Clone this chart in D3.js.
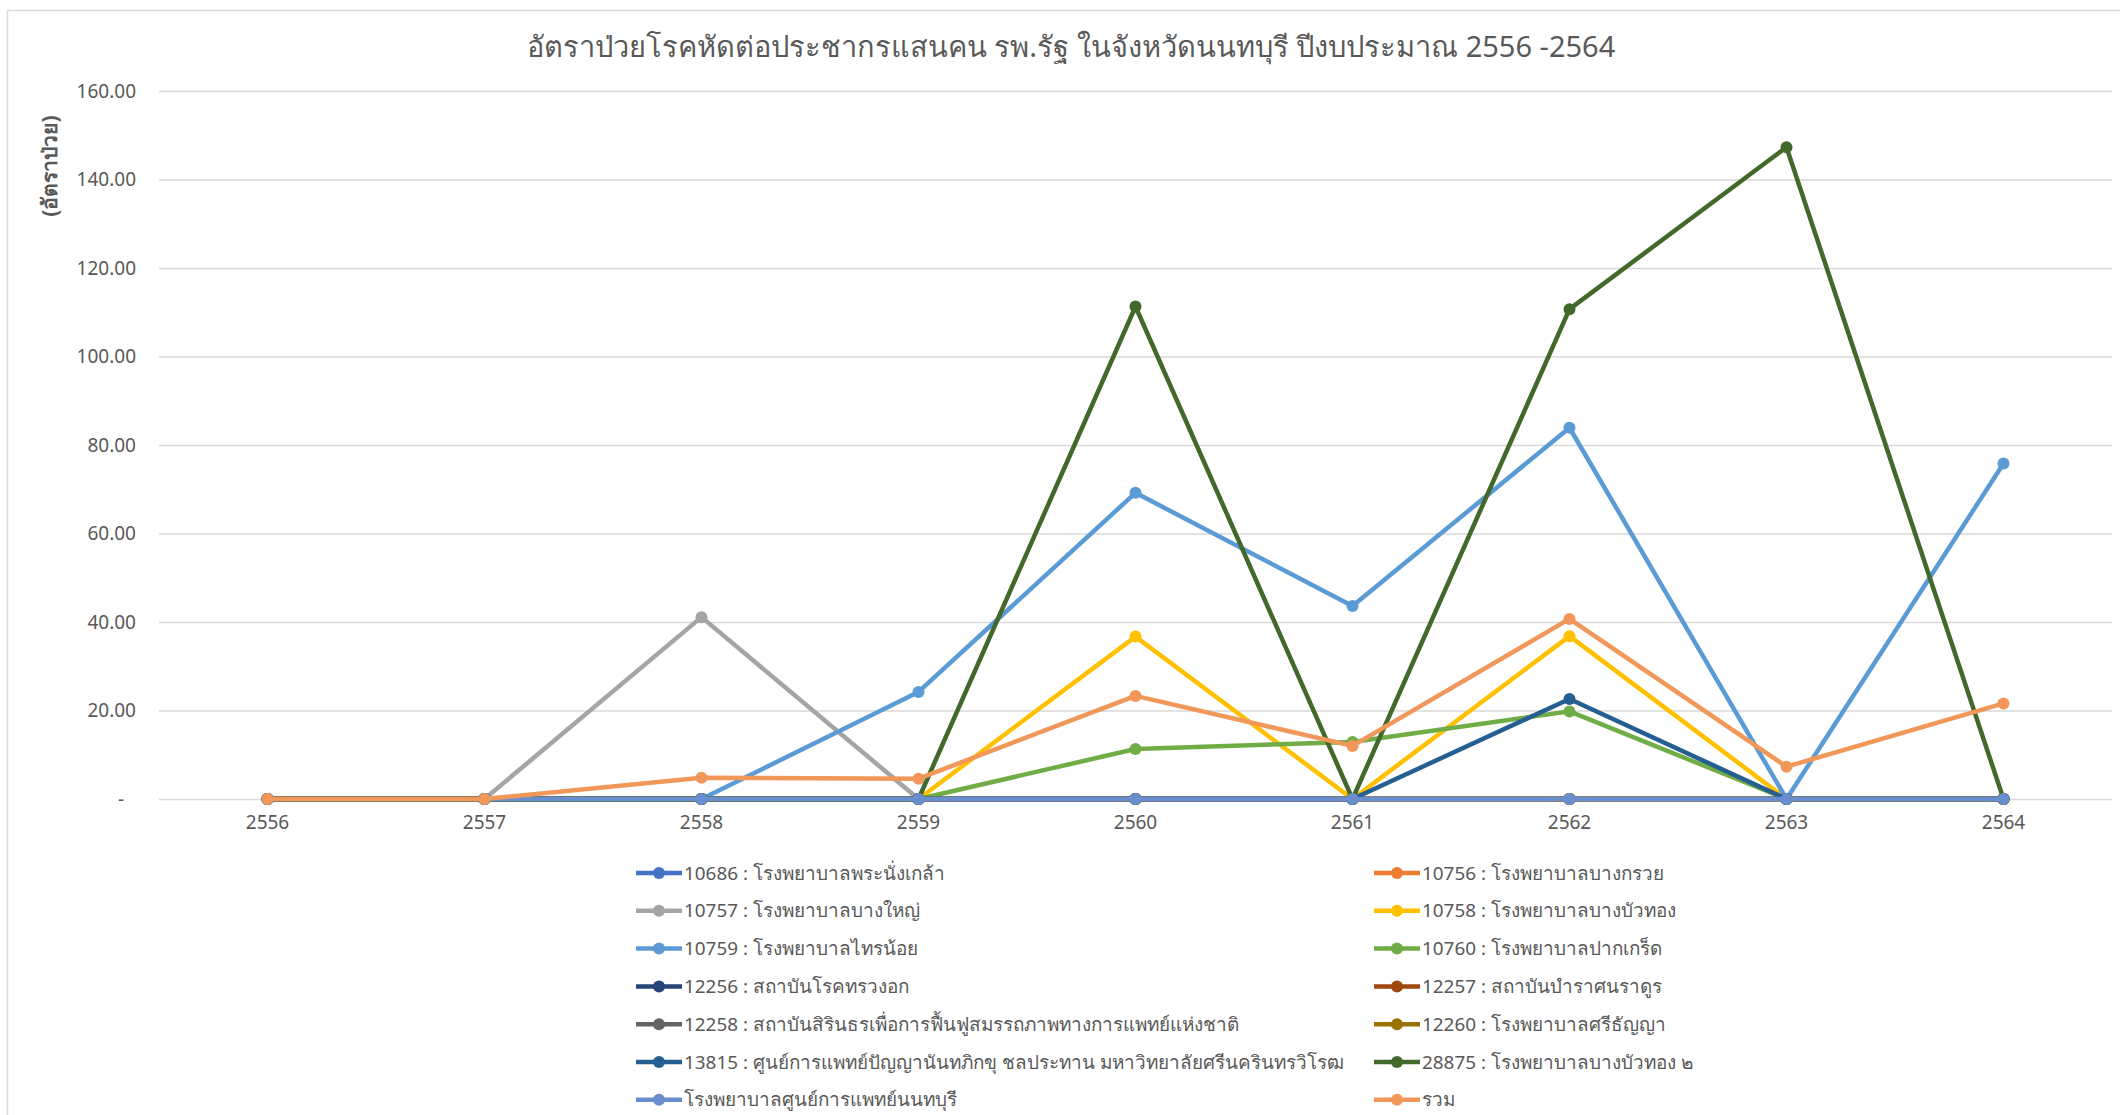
<!DOCTYPE html>
<html lang="th">

<head>
    <meta charset="UTF-8">
    <title>อัตราป่วยโรคหัด</title>
    <script src="https://d3js.org/d3.v7.min.js"></script>
    <style>
        body {
            margin: 0;
            background: #fff;
        }

        text {
            font-family: "Noto Sans", "Open Sans", sans-serif;
            fill: #595959;
        }
    </style>
</head>

<body>
    <svg width="2120" height="1115"></svg>

    <script>
        // ปีงบประมาณ
        const years = ["2556", "2557", "2558", "2559", "2560", "2561", "2562", "2563", "2564"];

        const seriesNames = [
            "10686 : โรงพยาบาลพระนั่งเกล้า",
            "10756 : โรงพยาบาลบางกรวย",
            "10757 : โรงพยาบาลบางใหญ่",
            "10758 : โรงพยาบาลบางบัวทอง",
            "10759 : โรงพยาบาลไทรน้อย",
            "10760 : โรงพยาบาลปากเกร็ด",
            "12256 : สถาบันโรคทรวงอก",
            "12257 : สถาบันบำราศนราดูร",
            "12258 : สถาบันสิรินธรเพื่อการฟื้นฟูสมรรถภาพทางการแพทย์แห่งชาติ",
            "12260 : โรงพยาบาลศรีธัญญา",
            "13815 : ศูนย์การแพทย์ปัญญานันทภิกขุ ชลประทาน มหาวิทยาลัยศรีนครินทรวิโรฒ",
            "28875 : โรงพยาบาลบางบัวทอง ๒",
            "โรงพยาบาลศูนย์การแพทย์นนทบุรี",
            "รวม"
        ];

        const seriesColors = ["#4472C4", "#ED7D31", "#A5A5A5", "#FFC000", "#5B9BD5", "#70AD47",
            "#264478", "#9E480E", "#636363", "#997300", "#255E91", "#43682B", "#698ED0", "#F1975A"];

        // อัตราป่วยต่อแสนประชากร (อ่านจากกราฟ)
        const rates = [
            [0, 0, 0, 0, 0, 0, 0, 0, 0],
            [0, 0, 0, 0, 0, 0, 0, 0, 0],
            [0, 0, 41.1, 0, 0, 0, 0, 0, 0],
            [0, 0, 0, 0, 36.7, 0, 36.8, 0, 0],
            [0, 0, 0, 24.2, 69.2, 43.6, 83.9, 0, 75.8],
            [0, 0, 0, 0, 11.3, 12.9, 19.8, 0, 0],
            [0, 0, 0, 0, 0, 0, 0, 0, 0],
            [0, 0, 0, 0, 0, 0, 0, 0, 0],
            [0, 0, 0, 0, 0, 0, 0, 0, 0],
            [0, 0, 0, 0, 0, 0, 0, 0, 0],
            [0, 0, 0, 0, 0, 0, 22.6, 0, 0],
            [0, 0, 0, 0, 111.3, 0, 110.7, 147.3, 0],
            [0, 0, 0, 0, 0, 0, 0, 0, 0],
            [0, 0, 4.8, 4.6, 23.3, 12.0, 40.7, 7.3, 21.6]
        ];

        const yTicks = [0, 20, 40, 60, 80, 100, 120, 140, 160];

        const svg = d3.select("svg"),
            plot = { left: 159, right: 2112, top: 91, bottom: 799 };

        // chart frame
        svg.append("path")
            .attr("d", "M7.5,1115 V10.5 H2120")
            .attr("fill", "none")
            .attr("stroke", "#d9d9d9")
            .attr("stroke-width", 1.5);

        const x = d3.scaleBand().domain(years).range([plot.left, plot.right]),
            y = d3.scaleLinear().domain([0, 160]).range([plot.bottom, plot.top]);
        const cx = d => x(d) + x.bandwidth() / 2;

        // gridlines + y labels
        const yAxis = svg.append("g")
            .attr("transform", `translate(${plot.left},0)`)
            .call(d3.axisLeft(y).tickValues(yTicks)
                .tickSize(-(plot.right - plot.left))
                .tickPadding(23)
                .tickFormat(d => d === 0 ? "-" : d3.format(".2f")(d)));
        yAxis.select(".domain").remove();
        yAxis.selectAll(".tick line").attr("stroke", "#d9d9d9").attr("stroke-width", 1.5);
        yAxis.selectAll(".tick text").attr("font-size", 19).attr("fill", "#595959");
        yAxis.selectAll(".tick").filter(d => d === 0).select("text").attr("dx", -12);

        // x labels
        const xAxis = svg.append("g")
            .attr("transform", `translate(0,${plot.bottom})`)
            .call(d3.axisBottom(x).tickSize(0).tickPadding(17));
        xAxis.select(".domain").remove();
        xAxis.selectAll(".tick text").attr("font-size", 19).attr("fill", "#595959");

        // lines and markers
        const line = d3.line().x((d, i) => cx(years[i])).y(d => y(d));
        seriesNames.forEach((name, s) => {
            const g = svg.append("g");
            g.append("path")
                .datum(rates[s])
                .attr("d", line)
                .attr("fill", "none")
                .attr("stroke", seriesColors[s])
                .attr("stroke-width", 4.5)
                .attr("stroke-linejoin", "round");
            g.selectAll("circle")
                .data(rates[s])
                .join("circle")
                .attr("cx", (d, i) => cx(years[i]))
                .attr("cy", d => y(d))
                .attr("r", 6)
                .attr("fill", seriesColors[s]);
        });

        // title
        svg.append("text")
            .attr("x", 1071)
            .attr("y", 57)
            .attr("text-anchor", "middle")
            .attr("font-size", 29)
            .text("อัตราป่วยโรคหัดต่อประชากรแสนคน รพ.รัฐ ในจังหวัดนนทบุรี ปีงบประมาณ 2556 -2564");

        // y-axis title
        svg.append("text")
            .attr("transform", "translate(57,166) rotate(-90)")
            .attr("text-anchor", "middle")
            .attr("font-size", 21)
            .attr("font-weight", "bold")
            .text("(อัตราป่วย)");

        // legend, two columns
        const legend = svg.append("g");
        seriesNames.forEach((name, s) => {
            const col = s % 2, row = Math.floor(s / 2);
            const lx = col === 0 ? 636 : 1374, ly = 873 + row * 37.8;
            const item = legend.append("g").attr("transform", `translate(${lx},${ly})`);
            item.append("line")
                .attr("x1", 0).attr("x2", 46)
                .attr("stroke", seriesColors[s])
                .attr("stroke-width", 4.5);
            item.append("circle")
                .attr("cx", 23).attr("r", 6)
                .attr("fill", seriesColors[s]);
            item.append("text")
                .attr("x", 48)
                .attr("dy", "0.35em")
                .attr("font-size", 18.9)
                .text(name);
        });
    </script>
</body>

</html>
